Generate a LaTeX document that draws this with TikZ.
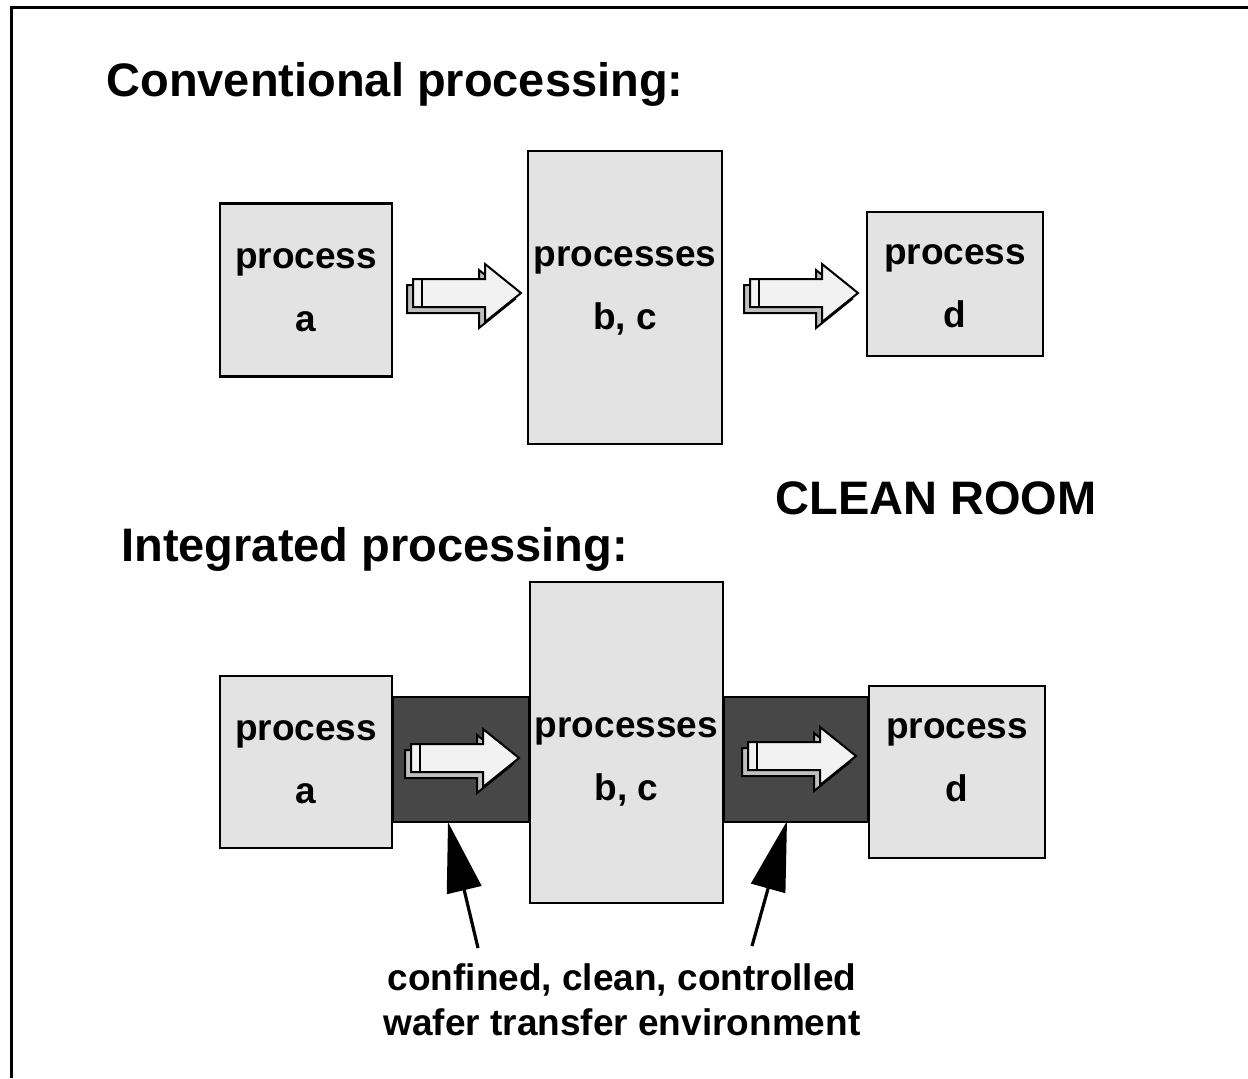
\documentclass[tikz,border=0pt]{standalone}
\usepackage{fontspec}
\setmainfont{Liberation Sans}
\usepackage{tikz}
\usetikzlibrary{arrows.meta,backgrounds}

\tikzset{
  procbox/.style={draw, line width=1.2pt, fill=gray!22, inner sep=0pt},
  boxtext/.style={font=\fontsize{18.5}{31.5}\selectfont\bfseries, align=center},
  heading/.style={font=\fontsize{23.5}{28}\selectfont\bfseries, anchor=base west, inner sep=0pt},
  band/.style={draw, line width=1.2pt, fill=black!72},
  pointer/.style={line width=1.6pt, -{Triangle[length=35pt,width=17.5pt]}},
  blockarrow/.pic={
    \filldraw[fill=gray!50, line width=1pt] (-56,-8) -- (16,-8) -- (16,-23) -- (52,6) -- (16,35) -- (16,20) -- (-56,20) -- cycle;
    \filldraw[fill=gray!10, line width=1pt] (-50,-14) -- (22,-14) -- (22,-29) -- (58,0) -- (22,29) -- (22,14) -- (-50,14) -- cycle;
    \draw[line width=1pt] (-41,-14) -- (-41,14);
  }
}

\begin{document}
\begin{tikzpicture}[x=0.5pt, y=-0.5pt]
  \useasboundingbox (0,0) rectangle (1248,1078);
  \draw[line width=1.5pt] (11,1078) -- (11,7) -- (1248,7);

  % conventional
  \node[heading] (conv) at (106,96) {Conventional processing:};
  \node[procbox, minimum width=86pt, minimum height=86.5pt,
        label={[boxtext]center:process\\a}] (a1) at (306,290) {};
  \node[procbox, minimum width=97pt, minimum height=146.5pt,
        label={[boxtext,yshift=3.5pt]center:processes\\b, c}] (bc1) at (625,297.5) {};
  \node[procbox, minimum width=88pt, minimum height=72pt,
        label={[boxtext,yshift=-1pt]center:process\\d}] (d1) at (955,284) {};
  \pic at (463,293) {blockarrow};
  \pic at (800,293) {blockarrow};

  \node[heading] (clean) at (775,514) {CLEAN ROOM};

  % integrated
  \node[heading] (integ) at (121,561) {Integrated processing:};
  \node[procbox, minimum width=86pt, minimum height=86pt,
        label={[boxtext]center:process\\a}] (a2) at (306,762) {};
  \node[procbox, minimum width=96.5pt, minimum height=160.5pt,
        label={[boxtext,yshift=-9.75pt]center:processes\\b, c}] (bc2) at (626.5,742.5) {};
  \node[procbox, minimum width=88pt, minimum height=86pt,
        label={[boxtext,yshift=6pt]center:process\\d}] (d2) at (957,772) {};

  \coordinate (bandtop) at (0,697);
  \coordinate (bandbot) at (0,822);
  \begin{scope}[on background layer]
    \draw[band] (a2.east |- bandtop) rectangle (bc2.west |- bandbot);
    \draw[band] (bc2.east |- bandtop) rectangle (d2.west |- bandbot);
  \end{scope}
  \pic at (461,758) {blockarrow};
  \pic at (798,756) {blockarrow};

  % pointers
  \coordinate (p1) at (478,948);
  \coordinate (t1) at (448,822);
  \coordinate (p2) at (752,946);
  \coordinate (t2) at (787,821);
  \draw[pointer] (p1) -- (t1);
  \draw[pointer] (p2) -- (t2);

  \node[font=\fontsize{18.5}{22.5}\selectfont\bfseries, align=center] (env) at (622,1000)
    {confined, clean, controlled\\wafer transfer environment};
\end{tikzpicture}
\end{document}
